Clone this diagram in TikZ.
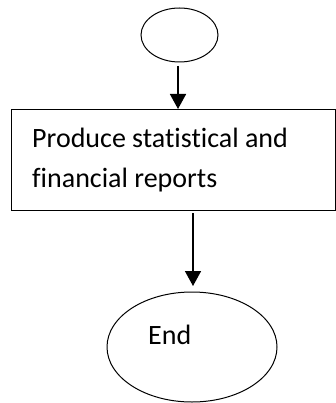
\documentclass[tikz,border=0pt]{standalone}
\usepackage{fontspec}
\setmainfont[Ligatures={NoCommon}]{Carlito}
\usetikzlibrary{arrows.meta,shapes.geometric}
\begin{document}
\begin{tikzpicture}[x=1pt,y=-1pt,
  term/.style={draw,ellipse,line width=1pt,inner sep=0pt},
  procbox/.style={draw,rectangle,line width=1.1pt,inner sep=0pt},
  flow/.style={line width=1.6pt,-{Triangle[width=16pt,length=15pt]}},
  lbl/.style={font=\fontsize{28}{34}\selectfont,inner sep=0pt}]
\useasboundingbox (0,0) rectangle (336,403);
% start terminator
\node[term,minimum width=77pt,minimum height=54pt] (start) at (179.5,35) {};
% process step
\node[procbox,anchor=north west,minimum width=324pt,minimum height=101pt] (proc) at (11,109) {};
\node[lbl,anchor=base west] (l1) at (32,148) {Produce statistical and};
\node[lbl,anchor=base west] (l2) at (32,187) {financial reports};
% end terminator
\node[term,minimum width=170pt,minimum height=110pt] (finish) at (192,347) {};
\node[lbl,anchor=base west] (endtxt) at (148,344) {End};
% connectors
\coordinate (a1) at (178,66);
\coordinate (b1) at (178,109);
\draw[flow] (a1) -- (b1);
\coordinate (a2) at (193,213);
\coordinate (b2) at (193,286);
\draw[flow] (a2) -- (b2);
\end{tikzpicture}
\end{document}
